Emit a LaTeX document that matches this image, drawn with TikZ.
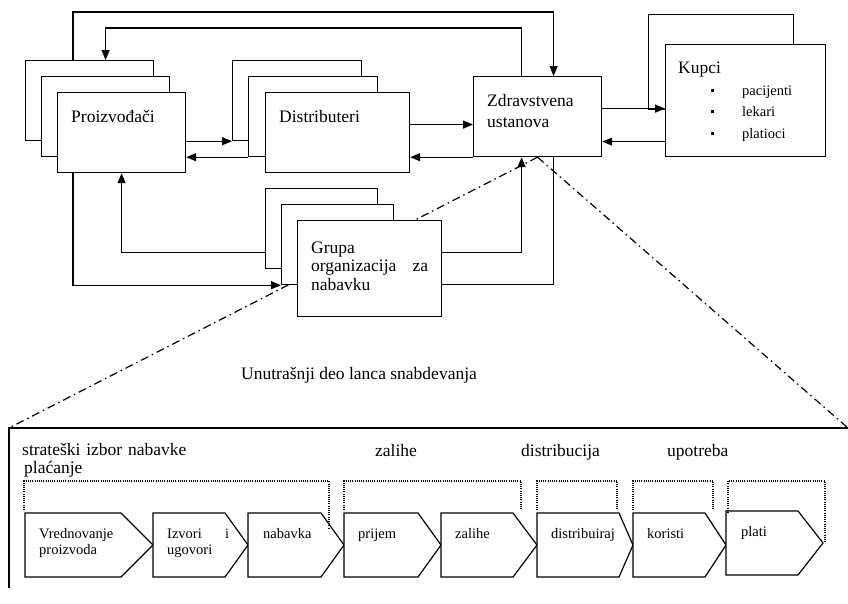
\documentclass[tikz,border=0pt]{standalone}
\usepackage{fontspec}
\setmainfont{Liberation Serif}
\usetikzlibrary{arrows.meta}
\tikzset{
  box/.style={draw, fill=white, line width=1.2pt, inner sep=0pt, anchor=north west},
  arr/.style={line width=1.2pt, -{Triangle[length=10pt,width=8pt]}},
  conn/.style={line width=1.2pt},
  zoomline/.style={line width=1.2pt, dash pattern=on 8pt off 4pt on 1.5pt off 4pt},
  bracket/.style={line width=1.1pt, dash pattern=on 1pt off 1.2pt},
  chev/.style={draw, fill=white, line width=1.2pt, line join=miter},
  lbl/.style={inner sep=0pt, anchor=base west, font=\fontsize{17.5}{21}\selectfont},
  sml/.style={inner sep=0pt, anchor=base west, font=\fontsize{14.5}{16.5}\selectfont},
}
\newcommand{\kvad}{\rule[3pt]{3pt}{3pt}\hspace{28pt}}
\begin{document}
\begin{tikzpicture}[x=1pt, y=-1pt]
\useasboundingbox (0,0) rectangle (848,603);
% okvir unutrasnjeg dela
\coordinate (fl) at (9,428);
\coordinate (fr) at (848,428);
\coordinate (fb) at (9,588);
\draw[conn] (fb) -- (fl) -- (fr);
% zdravstvena ustanova
\node[box, minimum width=128pt, minimum height=80pt] (z) at (473,76) {};
\draw[zoomline] (z.south) -- (fl);
\draw[zoomline] (z.south) -- (fr);
% proizvodjaci
\node[box, minimum width=128pt, minimum height=80pt] (p3) at (25,60) {};
\node[box, minimum width=128pt, minimum height=80pt] (p2) at (41,76) {};
\node[box, minimum width=128pt, minimum height=80pt] (p1) at (57,92) {};
% distributeri
\node[box, minimum width=129pt, minimum height=80pt] (d3) at (232,60) {};
\node[box, minimum width=129pt, minimum height=80pt] (d2) at (248,76) {};
\node[box, minimum width=144pt, minimum height=80pt] (d1) at (265,92) {};
% kupci
\node[box, minimum width=145pt, minimum height=95pt] (k2) at (648,14) {};
\node[box, minimum width=160pt, minimum height=112pt] (k1) at (665,44) {};
% grupa
\node[box, minimum width=112pt, minimum height=80pt] (g3) at (265,188) {};
\node[box, minimum width=112pt, minimum height=80pt] (g2) at (281,204) {};
\node[box, minimum width=144pt, minimum height=96pt] (g1) at (297,220) {};
% tekst u kutijama
\node[lbl] (tp) at (71,122) {Proizvođači};
\node[lbl] (td) at (279,122) {Distributeri};
\node[lbl, text width=110pt, align=left] (tz) at (487,106) {Zdravstvena\\ustanova};
\node[lbl] (tk) at (678,73) {Kupci};
\node[sml] (pac) at (711,95) {\kvad pacijenti};
\node[sml] (lek) at (711,116) {\kvad lekari};
\node[sml] (pla) at (711,138) {\kvad platioci};
\node[lbl, text width=117pt, align=left, font=\fontsize{17.5}{18.5}\selectfont] (tg) at (311,253) {Grupa\\organizacija\hfill za\\nabavku};
% veze
\draw[arr] (p1.east |- d3.south west) -- (d3.south west);
\draw[arr] (d2.south west) -- (p1.east |- d2.south west);
\draw[arr] ([yshift=-8pt]z.west -| d1.east) -- ([yshift=-8pt]z.west);
\draw[arr] (z.south west) -- (d1.east |- z.south west);
\draw[arr] ([yshift=8pt]z.east) -- ([yshift=8pt]z.east -| k1.west);
\draw[arr] ([yshift=-25pt]z.east -| k1.west) -- ([yshift=-25pt]z.east);
\draw[arr] ([xshift=48pt]p3.north west) -- ++(0,-48) -| ([xshift=16pt]z.north);
\draw[arr] ([xshift=-16pt]z.north) -- ++(0,-48) -| ([xshift=16pt]p3.north);
\draw[arr] ([yshift=-24pt]g3.west) -| (p1.south);
\draw[arr] ([xshift=16pt]p1.south west) |- (g2.south west);
\draw[arr] ([yshift=16pt]g1.east) -| ([xshift=-16pt]z.south);
\draw[conn] ([yshift=-16pt]g1.east) -| ([xshift=16pt]z.south);
% unutrasnji deo
\node[lbl] (tu) at (241,379) {Unutrašnji deo lanca snabdevanja};
\node[lbl, text width=200pt, align=left, font=\fontsize{17.5}{18}\selectfont] (ts) at (22,455) {strateški izbor nabavke\\\hspace*{2pt}plaćanje};
\node[lbl] (tza) at (375,456) {zalihe};
\node[lbl] (tdi) at (521,456) {distribucija};
\node[lbl] (tup) at (667,456) {upotreba};
\foreach \l/\c/\t in {25/121/153, 153/225/248, 248/321/344, 344/418/441, 441/513/537, 537/619/633, 633/705/726}
  \draw[chev] (\l,513) -- (\c,513) -- (\t,545) -- (\c,577) -- (\l,577) -- cycle;
\draw[chev] (726,511) -- (798,511) -- (823,543) -- (798,575) -- (726,575) -- cycle;
\draw[bracket] (24,510) -- (24,481) -- (329,481) -- (329,528);
\foreach \a/\b in {344/521, 537/617, 633/713}
  \draw[bracket] (\a,510) -- (\a,481) -- (\b,481) -- (\b,510);
\draw[bracket] (728,513) -- (728,481) -- (825,481) -- (825,543);
\node[sml, text width=100pt, align=left] (c1) at (39,538) {Vrednovanje\\proizvoda};
\node[sml, text width=62pt, align=left] (c2) at (167,538) {Izvori\hfill i\\ugovori};
\node[sml] (c3) at (263,538) {nabavka};
\node[sml] (c4) at (358,538) {prijem};
\node[sml] (c5) at (455,538) {zalihe};
\node[sml] (c6) at (551,538) {distribuiraj};
\node[sml] (c7) at (647,538) {koristi};
\node[sml] (c8) at (741,536) {plati};
\end{tikzpicture}
\end{document}
